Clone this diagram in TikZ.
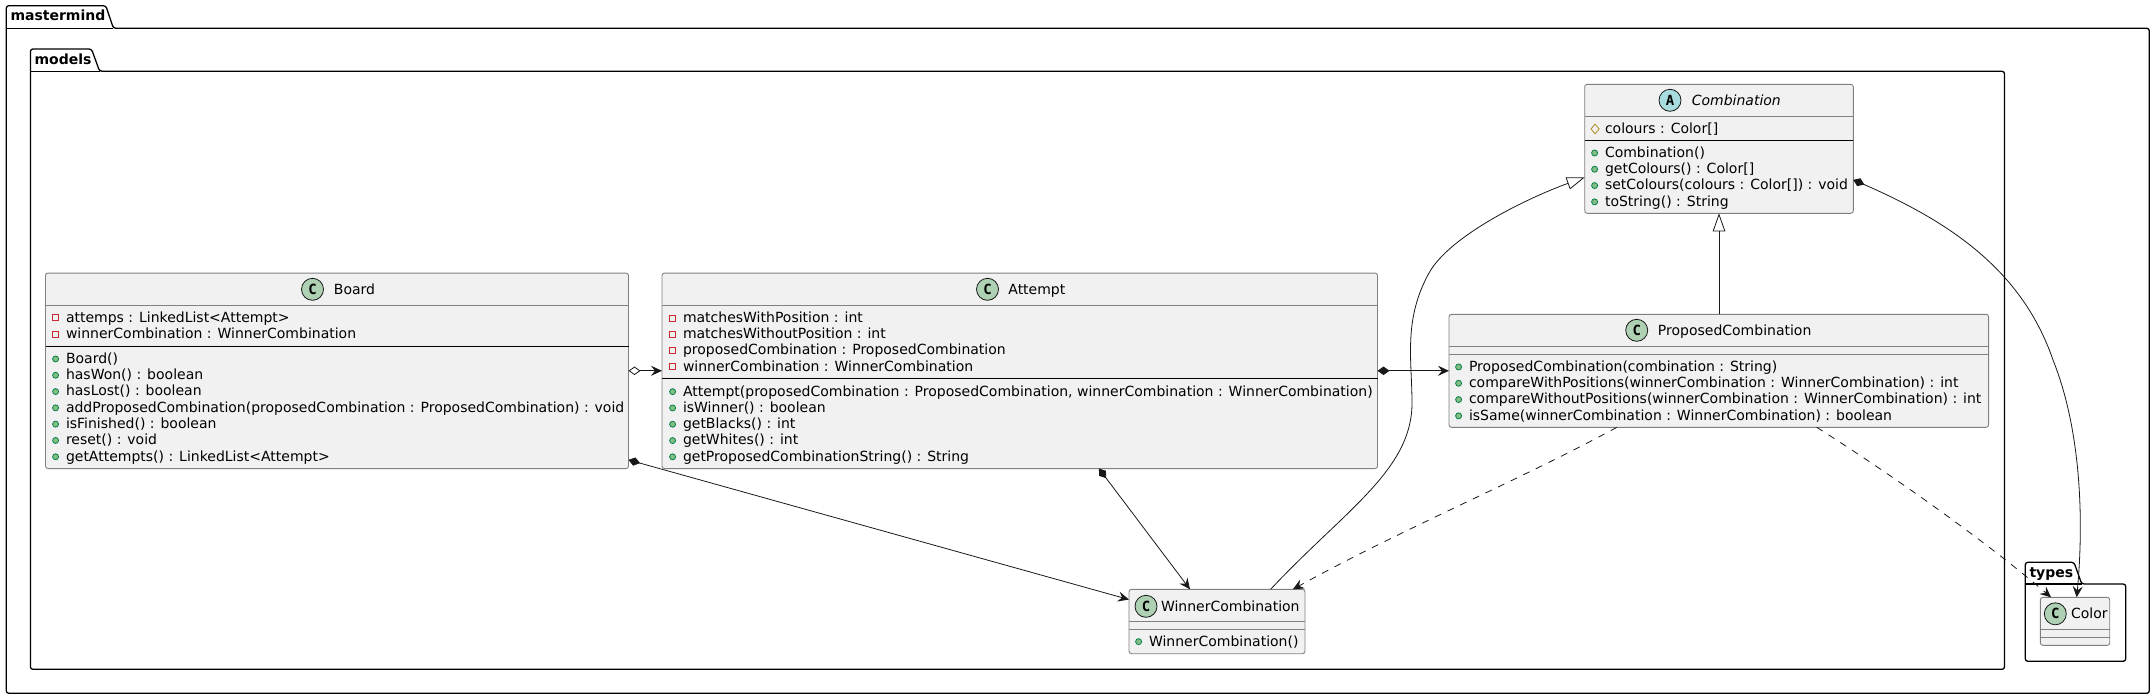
\documentclass[tikz,border=0pt]{standalone}
\usepackage{fontspec}
\setmainfont{DejaVu Sans}
\setmonofont{DejaVu Sans Mono}
\usetikzlibrary{positioning,calc,arrows.meta,shapes.geometric}

\definecolor{boxfill}{HTML}{F1F1F1}
\definecolor{boxline}{HTML}{808080}
\definecolor{inkline}{HTML}{181818}
\definecolor{spotc}{HTML}{ADD1B2}
\definecolor{spota}{HTML}{A9DCDF}
\definecolor{privred}{HTML}{C82930}
\definecolor{privfill}{HTML}{F1F1F1}
\definecolor{pubgreen}{HTML}{038048}
\definecolor{pubfill}{HTML}{84BE84}
\definecolor{protgold}{HTML}{B38D22}

\tikzset{
  pkg/.style={draw=black, line width=1.3pt, rounded corners=2.5pt, line join=round},
  pkgname/.style={font=\fontsize{14}{16}\selectfont\bfseries, anchor=base west, inner sep=0pt},
  classbox/.style={draw=boxline, line width=.9pt, fill=boxfill, rounded corners=2.5pt, inner sep=0pt, outer sep=0pt},
  stamp/.style={circle, draw=inkline, line width=.8pt, minimum size=22pt, inner sep=0pt, font=\fontsize{14}{16}\selectfont\ttfamily\bfseries},
  title/.style={font=\fontsize{14}{16}\selectfont, inner sep=0pt, outer sep=0pt, text height=13pt, text depth=3pt},
  member/.style={font=\fontsize{14}{16}\selectfont, inner sep=0pt, outer sep=0pt, text height=12.5pt, text depth=3.8pt, anchor=north west},
  nextto/.style={below=0pt of #1.south west, anchor=north west},
  privbox/.style={rectangle, draw=privred, fill=privfill, line width=.8pt, minimum size=6pt, inner sep=0pt, xshift=-7pt},
  pubdot/.style={circle, draw=pubgreen, fill=pubfill, line width=.8pt, minimum size=6pt, inner sep=0pt, xshift=-7pt},
  protdia/.style={diamond, draw=protgold, fill=none, line width=.8pt, minimum width=8.5pt, minimum height=10pt, inner sep=0pt, xshift=-5.3pt},
  priv/.style={member, label={[privbox]left:{}}},
  pub/.style={member, label={[pubdot]left:{}}},
  prot/.style={member, label={[protdia]left:{}}},
  headline/.style={draw=boxline, line width=.9pt},
  divline/.style={draw=black, line width=.9pt},
  link/.style={draw=inkline, line width=.8pt},
  assoc/.style={link, -{Stealth[length=11pt, width=10pt, inset=4pt]}},
  comp/.style={assoc, {Diamond[length=12pt, width=8.5pt]}-{Stealth[length=11pt, width=10pt, inset=4pt]}},
  aggr/.style={assoc, {Diamond[open, length=12pt, width=8.5pt, fill=white]}-{Stealth[length=11pt, width=10pt, inset=4pt]}},
  inherit/.style={link, -{Triangle[open, length=18pt, width=12.5pt, fill=white]}},
  depend/.style={assoc, dash pattern=on 7pt off 7pt},
}

% compartment line across a class, #2 below its top edge
\newcommand{\compline}[3]{\draw[#3] ($(#1.north west)+(0,#2)$) -- ($(#1.north east)+(0,#2)$);}

\begin{document}
\begin{tikzpicture}[x=1pt, y=-1pt]
  \useasboundingbox (0,0) rectangle (2155,699);

  % packages
  \draw[pkg] (6.3,28.3) -- (6.3,5.7) -- (105.8,5.7) -- (113.4,28.3) -- (2149.3,28.3) -- (2149.3,693.3) -- (6.3,693.3) -- cycle;
  \draw[pkg] (6.3,28.3) -- (113.4,28.3);
  \node (mastername) [pkgname] at (10.3,20.7) {mastermind};

  \draw[pkg] (30.4,71.3) -- (30.4,49) -- (91.5,49) -- (99.6,71.3) -- (2004.5,71.3) -- (2004.5,669.3) -- (30.4,669.3) -- cycle;
  \draw[pkg] (30.4,71.3) -- (99.6,71.3);
  \node (modelsname) [pkgname] at (34.4,64) {models};

  \draw[pkg] (2025.3,584) -- (2025.3,562.3) -- (2074,562.3) -- (2081.7,584) -- (2125.7,584) -- (2125.7,661.3) -- (2025.3,661.3) -- cycle;
  \draw[pkg] (2025.3,584) -- (2081.7,584);
  \node (typesname) [pkgname] at (2029.3,577) {types};

  % classes
  \node (board) [classbox, minimum width=583pt, minimum height=195.5pt] at (337,370.8) {};
  \node (attempt) [classbox, minimum width=715.5pt, minimum height=195.5pt, right=33.5pt of board] {};
  \node (proposed) [classbox, minimum width=539.6pt, minimum height=113pt, right=71.5pt of attempt] {};
  \node (combination) [classbox, minimum width=268.6pt, minimum height=129pt] at (1719,148.8) {};
  \node (winner) [classbox, minimum width=176pt, minimum height=64.4pt] at (1217,621.5) {};
  \node (color) [classbox, minimum width=69.4pt, minimum height=48pt] at (2075,621.3) {};

  \compline{board}{32}{headline}
  \compline{board}{73}{divline}
  \compline{attempt}{32}{headline}
  \compline{attempt}{105}{divline}
  \compline{proposed}{32}{headline}
  \compline{proposed}{40}{headline}
  \compline{combination}{32}{headline}
  \compline{combination}{56}{divline}
  \compline{winner}{32}{headline}
  \compline{winner}{40}{headline}
  \compline{color}{32}{headline}
  \compline{color}{40}{headline}

  % class headers
  \node (boardc) [stamp, fill=spotc] at (312.5,289.3) {C};
  \node (boardt) [title, right=10pt of boardc] {Board};
  \node (attemptc) [stamp, fill=spotc] at (987.5,289.3) {C};
  \node (attemptt) [title, right=9.5pt of attemptc] {Attempt};
  \node (proposedc) [stamp, fill=spotc] at (1636.7,330.3) {C};
  \node (proposedt) [title, right=9.8pt of proposedc] {ProposedCombination};
  \node (combinationc) [stamp, fill=spota] at (1670,100.3) {A};
  \node (combinationt) [title, font=\fontsize{14}{16}\selectfont\itshape, right=10.4pt of combinationc] {Combination};
  \node (winnerc) [stamp, fill=spotc] at (1146,606.3) {C};
  \node (winnert) [title, right=3.6pt of winnerc] {WinnerCombination};
  \node (colorc) [stamp, fill=spotc] at (2055.3,613.8) {C};
  \node (colort) [title, right=4.4pt of colorc] {Color};

  % Board
  \node (boardf1) [priv] at (66,309.5) {attemps : LinkedList<Attempt>};
  \node (boardf2) [priv, nextto=boardf1] {winnerCombination : WinnerCombination};
  \node (boardm1) [pub] at (66,350.8) {Board()};
  \node (boardm2) [pub, nextto=boardm1] {hasWon() : boolean};
  \node (boardm3) [pub, nextto=boardm2] {hasLost() : boolean};
  \node (boardm4) [pub, nextto=boardm3] {addProposedCombination(proposedCombination : ProposedCombination) : void};
  \node (boardm5) [pub, nextto=boardm4] {isFinished() : boolean};
  \node (boardm6) [pub, nextto=boardm5] {reset() : void};
  \node (boardm7) [pub, nextto=boardm6] {getAttempts() : LinkedList<Attempt>};

  % Attempt
  \node (attemptf1) [priv] at (683,309.8) {matchesWithPosition : int};
  \node (attemptf2) [priv, nextto=attemptf1] {matchesWithoutPosition : int};
  \node (attemptf3) [priv, nextto=attemptf2] {proposedCombination : ProposedCombination};
  \node (attemptf4) [priv, nextto=attemptf3] {winnerCombination : WinnerCombination};
  \node (attemptm1) [pub] at (683,383.5) {Attempt(proposedCombination : ProposedCombination, winnerCombination : WinnerCombination)};
  \node (attemptm2) [pub, nextto=attemptm1] {isWinner() : boolean};
  \node (attemptm3) [pub, nextto=attemptm2] {getBlacks() : int};
  \node (attemptm4) [pub, nextto=attemptm3] {getWhites() : int};
  \node (attemptm5) [pub, nextto=attemptm4] {getProposedCombinationString() : String};

  % ProposedCombination
  \node (proposedm1) [pub] at (1469,358.8) {ProposedCombination(combination : String)};
  \node (proposedm2) [pub, nextto=proposedm1] {compareWithPositions(winnerCombination : WinnerCombination) : int};
  \node (proposedm3) [pub, nextto=proposedm2] {compareWithoutPositions(winnerCombination : WinnerCombination) : int};
  \node (proposedm4) [pub, nextto=proposedm3] {isSame(winnerCombination : WinnerCombination) : boolean};

  % Combination
  \node (combinationf1) [prot] at (1605,120.8) {colours : Color[]};
  \node (combinationm1) [pub] at (1605,144.8) {Combination()};
  \node (combinationm2) [pub, nextto=combinationm1] {getColours() : Color[]};
  \node (combinationm3) [pub, nextto=combinationm2] {setColours(colours : Color[]) : void};
  \node (combinationm4) [pub, nextto=combinationm3] {toString() : String};

  % WinnerCombination
  \node (winnerm1) [pub] at (1149,633.5) {WinnerCombination()};

  % relations
  \draw[aggr] (board.east) -- (attempt.west);
  \draw[comp] (attempt.east) -- (proposed.west);
  \draw[comp] (board.-17.66) -- (winner.166.3);
  \draw[comp] (attempt.-51.4) -- (winner.130);
  \draw[inherit] (proposed.north -| combination.south) -- (combination.south);
  \draw[inherit] (winner.31) .. controls (1345,510) and (1412,470) .. (1412,403)
    .. controls (1412,360) and (1403,320) .. (1429,273)
    .. controls (1450,235) and (1530,197) .. (combination.192.3);
  \draw[depend] (proposed.209) .. controls (1520,480) and (1400,530) .. (winner.23.1);
  \draw[depend] (proposed.-30.4) .. controls (1900,480) and (1990,545) .. (color.135.3);
  \draw[comp] (combination.-13.4) .. controls (1950,222) and (2022,270) .. (2053,360)
    .. controls (2081,430) and (2084,520) .. (color.86);
\end{tikzpicture}
\end{document}
